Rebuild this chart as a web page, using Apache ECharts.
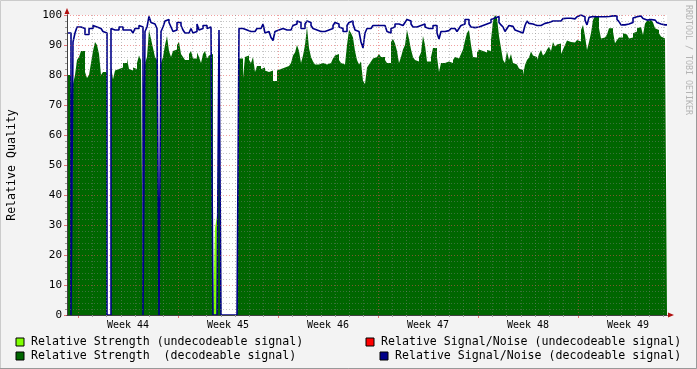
<!DOCTYPE html>
<html><head><meta charset="utf-8">
<script src="https://cdn.jsdelivr.net/npm/echarts@6/dist/echarts.min.js"></script>
<style>html,body{margin:0;padding:0;background:#f3f3f3}#c{width:697px;height:369px}</style>
</head><body><div id="c"></div>
<script>
// x values: hours relative to Monday 00:00 of week 44
const startHour = -18.48;
const stepHours = 3.36;
const spanHours = 1008;
const weekLabels = ['Week 44', 'Week 45', 'Week 46', 'Week 47', 'Week 48', 'Week 49'];
const yMajorTicks = [0, 10, 20, 30, 40, 50, 60, 70, 80, 90, 100];

const seriesNames = [
  'Relative Strength (undecodeable signal)',
  'Relative Signal/Noise (undecodeable signal)',
  'Relative Strength  (decodeable signal)',
  'Relative Signal/Noise (decodeable signal)'
];

// Relative Strength (decodeable), one value per sample
const strength = [
  80, 80, 0, 77, 80, 85, 86, 88, 88, 81,
  79, 80, 84, 88, 91, 90, 87, 80, 81, 81,
  0, 0, 83, 78.5, 81.5, 82, 82, 82.5, 84, 84,
  85.5, 82, 81.5, 82.5, 82, 84, 86.5, 85, 0, 84,
  86, 95, 92, 89, 86, 85, 0, 84, 86, 90,
  93, 88, 86, 88, 88.5, 90, 91, 87, 86, 85,
  85, 87, 88, 85.5, 85.5, 87.5, 86, 84, 87, 88,
  85.5, 86.5, 87, 0, 0, 0, 88, 0, 0, 0,
  0, 0, 0, 0, 0, 0, 85.5, 85.5, 79, 86,
  86.5, 85, 84, 86, 81, 83, 83, 82, 82.5, 81.5,
  81, 81.5, 81.5, 78, 78, 81.5, 82, 82.5, 82.5, 82.5,
  83, 83.5, 84, 86.5, 87.5, 90, 88, 84, 86.5, 90,
  96, 89, 86, 84.5, 83.5, 83.5, 84, 84, 84, 83.5,
  83.5, 84, 84.5, 85.5, 86.5, 87, 85, 84, 83.5, 83,
  90, 95, 94, 92.5, 88, 85, 83.5, 84.5, 78, 77,
  82.5, 83.5, 84.5, 85.5, 86, 86.5, 87, 86, 86, 85,
  84, 84, 91, 92, 90.5, 88, 84, 86, 88.5, 90,
  95, 92, 88.5, 86, 85, 84.5, 86, 87.5, 93, 90,
  84.5, 84.5, 86, 89, 89, 86, 81, 84, 84, 84.5,
  84.5, 84, 84, 85, 86, 85.5, 85.5, 87, 88.5, 91.5,
  94, 95, 90, 86, 85.8, 87.5, 88.5, 88, 88, 87.5,
  88.3, 88, 91.7, 98, 100, 99, 93, 89, 85, 84,
  87.8, 85, 87, 84, 83.5, 83.5, 82.2, 81.7, 80, 83.3,
  85, 85.8, 87.8, 86.5, 86, 85, 87, 88.3, 86.5, 87.2,
  88.5, 89.4, 88, 91, 89.5, 90.2, 90.5, 87, 88.5, 90,
  91.5, 91, 90.5, 90.8, 91, 91.7, 91.2, 95, 96.7, 93,
  88.3, 91, 94, 98.3, 99.7, 99.7, 95.6, 92.2, 92.5, 92.8,
  93.5, 95.6, 95.6, 94.4, 90.6, 91.7, 92.5, 92.5, 93.9, 93.5,
  93.3, 92.2, 92.5, 93.9, 94.5, 95.6, 96, 96, 93.3, 97.2,
  98, 98.3, 97.8, 97.5, 95.6, 95, 93.9, 92.8, 92.2, 92.2
];

// Relative Signal/Noise (decodeable), one value per sample
const snr = [
  94, 94, 0, 91, 94, 96, 96, 96, 95.5, 93.5,
  93.5, 95.5, 95.5, 96.5, 96, 96, 95.5, 95.5, 94.5, 94,
  0, 0, 95.5, 95, 95, 95, 96, 96, 95, 95,
  94.5, 95, 94.5, 94, 95.5, 95.5, 96.5, 96, 0, 94.5,
  96, 99.5, 97.5, 97, 96.5, 95.5, 0, 94.5, 96, 98,
  98.5, 97.5, 96, 94.5, 95, 97.5, 97.5, 96.5, 95, 94,
  94, 94.5, 95.5, 94, 94.5, 97, 95, 95.5, 96.5, 96.5,
  95.5, 96, 96, 0, 0, 0, 95, 0, 0, 0,
  0, 0, 0, 0, 0, 0, 95.5, 95.5, 95, 95,
  95, 94.5, 94, 94.5, 95, 95.5, 95.5, 95, 97, 94,
  94.5, 94.5, 92.5, 91.5, 94.5, 95, 94.5, 95.5, 95.5, 95,
  94.5, 95, 95.5, 96.5, 97, 98, 97.5, 95.5, 95.5, 97,
  98, 97.5, 96.5, 95.5, 95, 94.5, 94.5, 94.5, 94.5, 95,
  95, 95, 95.5, 96.5, 97.5, 97, 96, 95.5, 94.5, 94.5,
  96.5, 97.5, 98, 97, 95, 94.5, 94, 91, 89, 94,
  95.5, 95.5, 96, 96.5, 96.5, 96.5, 96.5, 96.5, 96.5, 96,
  94.5, 94, 95.5, 96, 97, 97, 97, 96.5, 96, 97.5,
  98.5, 98, 97, 96, 96, 96.5, 96.5, 97, 97, 96,
  95.5, 95.5, 95.5, 96.5, 96.5, 94, 92, 94.5, 94.5, 94.5,
  94.8, 94.8, 95.5, 95.5, 95.2, 94.5, 95.5, 96.5, 97, 98.5,
  98.5, 97, 96, 95.8, 95.8, 96, 96.5, 96.5, 96.8, 97,
  97.2, 97.5, 98.5, 99, 99.5, 99.5, 97.5, 96.7, 96, 94.5,
  95.5, 96.5, 96.2, 96, 95, 94.5, 94.5, 94, 94, 96.5,
  98, 97.2, 97, 96.5, 96.5, 96.5, 96.5, 97, 97.2, 97,
  97.5, 98, 98, 98, 98, 97.8, 98, 98, 98.8, 98.9,
  98.9, 98.9, 98.7, 98.7, 99, 99.4, 100, 100, 99.4, 98.3,
  96.7, 99.2, 99.5, 99.7, 99.4, 99.7, 99.4, 99.6, 99.4, 99.7,
  99.5, 99.7, 99.7, 99.6, 99.7, 98.5, 97.8, 96.7, 96.7, 97,
  97, 96.7, 97.5, 99, 99.4, 99.5, 99.7, 99.5, 98.8, 98.3,
  98.3, 98.5, 98.5, 98.3, 97.8, 97.5, 97, 96.7, 96.7, 96.7
];

// Relative Strength (undecodeable): only a short burst in week 45
const undecSampleIdx = [73, 74, 75, 76];
const undecStrength = [0, 29, 33, 0];

// ---------- build ----------
const tOf = i => startHour + i * stepHours;
function stepData(vals) {
  const d = vals.map((v, i) => [tOf(i), v]);
  d.push([tOf(vals.length), vals[vals.length - 1]]);
  return d;
}
const undecData = undecSampleIdx.map((ix, k) => [tOf(ix), undecStrength[k]]);

const dayTicks = [];
for (let d = 1; d * 24 < spanHours; d++) if (d % 7) dayTicks.push(d * 24);
const weekTicks = weekLabels.map((_, k) => k * 168);
const weekLabelPos = weekLabels.map((_, k) => k * 168 + 84);
const yMinorTicks = [];
for (let v = 2; v < 100; v += 2) if (v % 10) yMinorTicks.push(v);

const FONT = 'DejaVu Sans Mono';
const minorGrid = { show: true, lineStyle: { color: 'rgba(128,128,128,0.45)', width: 1, type: [1, 2] } };
const majorGrid = { show: true, lineStyle: { color: 'rgba(225,80,80,0.55)', width: 1, type: [1, 2] } };
const xMin = startHour, xMax = startHour + spanHours;

const chart = echarts.init(document.getElementById('c'), null, { renderer: 'canvas' });
const legendBase = {
  icon: 'rect', itemWidth: 8, itemHeight: 8, selectedMode: false, padding: 0,
  itemStyle: { borderColor: '#000', borderWidth: 1 },
  textStyle: { fontFamily: FONT, fontSize: 11.6, color: '#000', padding: [0, 0, 0, 2] }
};
chart.setOption({
  animation: false,
  backgroundColor: '#f3f3f3',
  grid: { left: 67, top: 15, width: 600, height: 300, show: true, backgroundColor: '#ffffff', borderWidth: 0,
    containLabel: false, outerBoundsMode: 'none' },
  legend: [
    Object.assign({}, legendBase, { data: [seriesNames[0]], left: 15.5, top: 336 }),
    Object.assign({}, legendBase, { data: [seriesNames[2]], left: 15.5, top: 350 }),
    Object.assign({}, legendBase, { data: [seriesNames[1]], left: 365.5, top: 336 }),
    Object.assign({}, legendBase, { data: [seriesNames[3]], left: 379.5, top: 350 })
  ],
  xAxis: [
    {
      type: 'value', position: 'bottom', min: xMin, max: xMax, z: 5,
      axisLine: { show: true, onZero: false, lineStyle: { color: '#404040', width: 1 } },
      axisTick: { show: true, customValues: dayTicks, length: 2, lineStyle: { color: '#999' } },
      splitLine: minorGrid,
      axisLabel: {
        show: true, customValues: weekLabelPos, margin: 5,
        fontFamily: FONT, fontSize: 10, color: '#000',
        formatter: v => weekLabels[Math.round((v - 84) / 168)]
      }
    },
    {
      type: 'value', position: 'bottom', offset: 0, min: xMin, max: xMax, z: 4,
      axisLine: { show: true, onZero: false, symbol: ['none', 'triangle'], symbolSize: [5, 6], symbolOffset: [0, 4],
        lineStyle: { color: '#b01010', width: 1 } },
      axisTick: { show: true, customValues: weekTicks, length: 3, lineStyle: { color: 'rgba(225,80,80,0.8)' } },
      splitLine: majorGrid,
      axisLabel: { show: false }
    }
  ],
  yAxis: [
    {
      type: 'value', position: 'left', min: 0, max: 100, z: 5,
      axisLine: { show: true, onZero: false, lineStyle: { color: '#404040', width: 1 } },
      axisTick: { show: true, customValues: yMinorTicks, length: 2, lineStyle: { color: '#999' } },
      splitLine: minorGrid,
      axisLabel: { show: false },
      name: 'Relative Quality', nameLocation: 'middle', nameRotate: 90, nameGap: 49,
      nameTextStyle: { fontFamily: FONT, fontSize: 11.6, color: '#000' }
    },
    {
      type: 'value', position: 'left', offset: 0, min: 0, max: 100, interval: 10, z: 4,
      axisLine: { show: true, onZero: false, symbol: ['none', 'triangle'], symbolSize: [5, 6], symbolOffset: [0, 4],
        lineStyle: { color: '#b01010', width: 1 } },
      axisTick: { show: true, length: 3, lineStyle: { color: 'rgba(225,80,80,0.8)' } },
      splitLine: majorGrid,
      axisLabel: { show: true, margin: 5, fontFamily: FONT, fontSize: 11, color: '#000',
        formatter: v => String(yMajorTicks[Math.round(v / 10)]) }
    }
  ],
  series: [
    {
      name: seriesNames[0], type: 'line', step: 'end', data: undecData, showSymbol: false, symbol: 'none',
      color: '#7fff00', lineStyle: { width: 0 }, areaStyle: { color: '#7fff00', opacity: 1 }, z: 1
    },
    {
      name: seriesNames[2], type: 'line', step: 'end', data: stepData(strength), showSymbol: false, symbol: 'none',
      color: '#006600', lineStyle: { width: 0 }, areaStyle: { color: '#006600', opacity: 1 }, z: 2
    },
    {
      name: seriesNames[1], type: 'line', data: [], symbol: 'none', color: '#ff0000', lineStyle: { width: 1 }
    },
    {
      name: seriesNames[3], type: 'line', step: 'end', data: stepData(snr), showSymbol: false, symbol: 'none',
      color: '#000088', lineStyle: { width: 1.6, color: '#000088' }, z: 3
    }
  ],
  graphic: [
    { type: 'text', x: 688, y: 5, rotation: -Math.PI / 2,
      style: { text: 'RRDTOOL / TOBI OETIKER', font: '8.3px "DejaVu Sans Mono"', fill: '#b4b4b4',
        textAlign: 'left', textVerticalAlign: 'middle' } },
    { type: 'rect', shape: { x: 0.5, y: 0.5, width: 696, height: 368 }, silent: true,
      style: { fill: 'none', stroke: '#cbcbcb', lineWidth: 1 } },
    { type: 'polyline', shape: { points: [[696.5, 0], [696.5, 368.5], [0, 368.5]] }, silent: true,
      style: { stroke: '#999999', lineWidth: 1, fill: 'none' } }
  ]
});
</script></body></html>
